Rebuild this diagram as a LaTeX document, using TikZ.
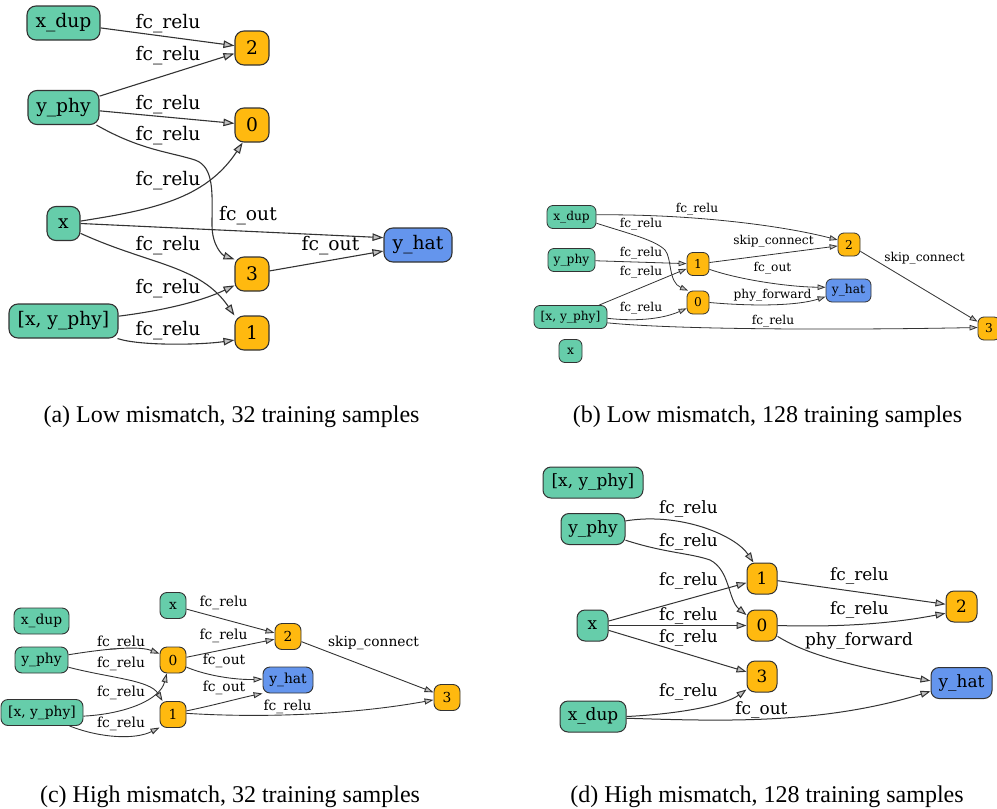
\documentclass[tikz,border=0pt]{standalone}
\usepackage{fontspec}
\setmainfont{Liberation Serif}
\newfontfamily\gvfamily{DejaVu Serif}
\usetikzlibrary{arrows.meta,calc}
\definecolor{ingreen}{HTML}{66CDAA}
\definecolor{oporange}{HTML}{FFB90F}
\definecolor{outblue}{HTML}{6495ED}
\definecolor{edgecol}{HTML}{333333}
\definecolor{tipfill}{HTML}{C0C0C0}
\tikzset{
  gv/.style={font=\gvfamily\fontsize{#1}{#1}\selectfont},
  graphnode/.style={draw=edgecol, inner sep=0pt},
  innode/.style={graphnode, fill=ingreen},
  opnode/.style={graphnode, fill=oporange},
  outnode/.style={graphnode, fill=outblue},
  sz/.style 2 args={minimum width=#1pt, minimum height=#2pt},
  elabel/.style={anchor=base, inner sep=0pt},
  caption/.style={font=\fontsize{24}{24}\selectfont, anchor=base, inner sep=0pt},
}
\begin{document}
\begin{tikzpicture}[x=1pt, y=-1pt]
\useasboundingbox (0,0) rectangle (997,809);

% ---------------- (a) ----------------
\begin{scope}[gv=18.7, line width=1.1pt, graphnode/.append style={rounded corners=9pt},
  conn/.style={draw=edgecol, -{Triangle[length=11pt,width=7.5pt,fill=tipfill]}}]
\node[innode, sz={73}{34}] (xdupA) at (63.5,23) {x\_dup};
\node[opnode, sz={34}{34}] (n2A) at (252,48) {2};
\node[innode, sz={71}{34}] (yphyA) at (63.5,107.5) {y\_phy};
\node[opnode, sz={34}{34}] (n0A) at (252,125) {0};
\node[innode, sz={33}{34}] (xA) at (63.5,223.5) {x};
\node[outnode, sz={68}{34}] (yhatA) at (418,245) {y\_hat};
\node[opnode, sz={34}{34}] (n3A) at (252,274) {3};
\node[innode, sz={109}{34}] (xyA) at (63.5,321) {[x, y\_phy]};
\node[opnode, sz={34}{34}] (n1A) at (252,333) {1};

\draw[conn] (xdupA) -- (n2A);
\draw[conn] (yphyA) -- (n2A);
\draw[conn] (yphyA) -- (n0A);
\draw[conn] (yphyA.-28) .. controls (140,150) and (170,152) .. (195,160)
  .. controls (215,167) and (212,195) .. (212,225)
  .. controls (212,245) and (222,255) .. (n3A.140);
\draw[conn] (xA.8) .. controls (150,210) and (205,200) .. (n0A.-118);
\draw[conn] (xA.-30) .. controls (150,265) and (200,265) .. (n1A.135);
\draw[conn] (xA.east) -- (yhatA.168);
\draw[conn] (n3A) -- (yhatA);
\draw[conn] (xyA.5) .. controls (160,311) and (200,302) .. (n3A.-147);
\draw[conn] (xyA.-18) .. controls (140,346) and (200,345) .. (n1A.-158);

\node[elabel] (la1) at (168,28.3) {fc\_relu};
\node[elabel] (la2) at (168,60.7) {fc\_relu};
\node[elabel] (la3) at (168,109) {fc\_relu};
\node[elabel] (la4) at (168,140) {fc\_relu};
\node[elabel] (la5) at (168,185.7) {fc\_relu};
\node[elabel] (la6) at (248,220.7) {fc\_out};
\node[elabel] (la7) at (168,250.7) {fc\_relu};
\node[elabel] (la8) at (330.5,250.7) {fc\_out};
\node[elabel] (la9) at (168,293.3) {fc\_relu};
\node[elabel] (la10) at (168,335) {fc\_relu};
\end{scope}

% ---------------- (b) ----------------
\begin{scope}[gv=12.2, line width=0.8pt, graphnode/.append style={rounded corners=6pt},
  conn/.style={draw=edgecol, -{Triangle[length=8pt,width=5.5pt,fill=tipfill]}}]
\node[innode, sz={49}{23}] (xdupB) at (571.5,217) {x\_dup};
\node[innode, sz={47}{23}] (yphyB) at (571.5,260) {y\_phy};
\node[innode, sz={73}{23}] (xyB) at (570.5,317) {[x, y\_phy]};
\node[innode, sz={23}{23}] (xB) at (570.5,351) {x};
\node[opnode, sz={22}{23}] (n1B) at (698,264) {1};
\node[opnode, sz={22}{23}] (n0B) at (698,302.5) {0};
\node[opnode, sz={22}{23}] (n2B) at (849,244.5) {2};
\node[outnode, sz={45}{23}] (yhatB) at (848.5,290.5) {y\_hat};
\node[opnode, sz={22}{23}] (n3B) at (989,328.5) {3};

\draw[conn] (xdupB.5) .. controls (690,214) and (780,225) .. (n2B.158);
\draw[conn] (xdupB.-14) .. controls (630,234) and (655,240) .. (665,250)
  .. controls (672,258) and (668,282) .. (n0B.130);
\draw[conn] (yphyB) -- (n1B);
\draw[conn] (xyB) -- (n1B);
\draw[conn] (xyB.-2) .. controls (640,322) and (665,318) .. (n0B.-153);
\draw[conn] (xyB.-9) .. controls (680,330) and (850,330) .. (n3B.175);
\draw[conn] (n1B) -- (n2B);
\draw[conn] (n1B.-25) .. controls (740,280) and (790,287) .. (yhatB.172);
\draw[conn] (n0B.east) .. controls (760,307) and (800,305) .. (yhatB.-165);
\draw[conn] (n2B) -- (n3B);

\node[elabel] (lb1) at (697,212.7) {fc\_relu};
\node[elabel] (lb2) at (641,227) {fc\_relu};
\node[elabel] (lb3) at (773.5,244) {skip\_connect};
\node[elabel] (lb4) at (924.5,261.7) {skip\_connect};
\node[elabel] (lb5) at (641,256.7) {fc\_relu};
\node[elabel] (lb6) at (641,275) {fc\_relu};
\node[elabel] (lb7) at (772.5,271.7) {fc\_out};
\node[elabel] (lb8) at (772.5,298) {phy\_forward};
\node[elabel] (lb9) at (641,311.7) {fc\_relu};
\node[elabel] (lb10) at (773,324) {fc\_relu};
\end{scope}

% ---------------- (c) ----------------
\begin{scope}[gv=13.8, line width=0.9pt, graphnode/.append style={rounded corners=7pt},
  conn/.style={draw=edgecol, -{Triangle[length=9pt,width=6pt,fill=tipfill]}}]
\node[innode, sz={55}{26}] (xdupC) at (41.5,621) {x\_dup};
\node[innode, sz={26}{26}] (xC) at (173,605.5) {x};
\node[innode, sz={53}{26}] (yphyC) at (41.5,660) {y\_phy};
\node[innode, sz={82}{26}] (xyC) at (42,712.5) {[x, y\_phy]};
\node[opnode, sz={26}{26}] (n0C) at (173,660) {0};
\node[opnode, sz={26}{26}] (n1C) at (173,714.5) {1};
\node[opnode, sz={26}{26}] (n2C) at (288,636.5) {2};
\node[outnode, sz={50}{26}] (yhatC) at (288,680) {y\_hat};
\node[opnode, sz={26}{26}] (n3C) at (447,697.5) {3};

\draw[conn] (xC) -- (n2C);
\draw[conn] (n0C) -- (n2C);
\draw[conn] (n2C) -- (n3C);
\draw[conn] (yphyC.11) .. controls (110,648) and (140,646) .. (n0C.155);
\draw[conn] (yphyC.-15) .. controls (110,678) and (150,680) .. (n1C.128);
\draw[conn] (n0C.-28) .. controls (210,677) and (240,680) .. (yhatC.178);
\draw[conn] (xyC.-5) .. controls (125,714) and (160,700) .. (n0C.-115);
\draw[conn] (xyC.-26) .. controls (100,738) and (135,740) .. (n1C.-136);
\draw[conn] (n1C.15) .. controls (215,705) and (240,698) .. (yhatC.south west);
\draw[conn] (n1C.5) .. controls (260,718) and (350,715) .. (n3C.-170);

\node[elabel] (lc1) at (223.5,606.7) {fc\_relu};
\node[elabel] (lc2) at (223.5,639.3) {fc\_relu};
\node[elabel] (lc3) at (373.5,646.7) {skip\_connect};
\node[elabel] (lc4) at (121,646.7) {fc\_relu};
\node[elabel] (lc5) at (121,667.3) {fc\_relu};
\node[elabel] (lc6) at (224,664.3) {fc\_out};
\node[elabel] (lc7) at (121,696.7) {fc\_relu};
\node[elabel] (lc8) at (224,691.7) {fc\_out};
\node[elabel] (lc9) at (287.5,710) {fc\_relu};
\node[elabel] (lc10) at (121,727.7) {fc\_relu};
\end{scope}

% ---------------- (d) ----------------
\begin{scope}[gv=16.9, line width=1pt, graphnode/.append style={rounded corners=8pt},
  conn/.style={draw=edgecol, -{Triangle[length=10pt,width=7pt,fill=tipfill]}}]
\node[innode, sz={100}{31}] (xyD) at (593,482.5) {[x, y\_phy]};
\node[innode, sz={64}{31}] (yphyD) at (593,529) {y\_phy};
\node[innode, sz={31}{31}] (xD) at (592.5,625.5) {x};
\node[innode, sz={66}{31}] (xdupD) at (593,716.5) {x\_dup};
\node[opnode, sz={30}{31}] (n1D) at (762,578.5) {1};
\node[opnode, sz={30}{31}] (n0D) at (762,625.5) {0};
\node[opnode, sz={30}{31}] (n3D) at (762,676.5) {3};
\node[opnode, sz={31}{31}] (n2D) at (961.5,606.5) {2};
\node[outnode, sz={61}{31}] (yhatD) at (961.5,683) {y\_hat};

\draw[conn] (yphyD.14) .. controls (680,512) and (735,535) .. (n1D.118);
\draw[conn] (yphyD.-19) .. controls (665,553) and (690,553) .. (710,560)
  .. controls (730,570) and (728,600) .. (n0D.146);
\draw[conn] (xD) -- (n1D);
\draw[conn] (xD) -- (n0D);
\draw[conn] (xD) -- (n3D);
\draw[conn] (n1D) -- (n2D);
\draw[conn] (n0D.east) .. controls (860,628) and (910,620) .. (n2D.-157);
\draw[conn] (n0D.-35) .. controls (800,650) and (830,662) .. (yhatD.176);
\draw[conn] (xdupD.east) .. controls (680,714) and (725,705) .. (n3D.-140);
\draw[conn] (xdupD.-3) .. controls (720,721) and (820,725) .. (yhatD.-165);

\node[elabel] (ld1) at (688.5,513.3) {fc\_relu};
\node[elabel] (ld2) at (688.5,546) {fc\_relu};
\node[elabel] (ld3) at (688.5,585) {fc\_relu};
\node[elabel] (ld4) at (688.5,620) {fc\_relu};
\node[elabel] (ld5) at (688.5,642.7) {fc\_relu};
\node[elabel] (ld6) at (688.5,696.7) {fc\_relu};
\node[elabel] (ld7) at (859.5,580) {fc\_relu};
\node[elabel] (ld8) at (859.5,614) {fc\_relu};
\node[elabel] (ld9) at (859,645) {phy\_forward};
\node[elabel] (ld10) at (761.5,714) {fc\_out};
\end{scope}

% ---------------- captions ----------------
\node[caption] (capA) at (231.5,422) {(a) Low mismatch, 32 training samples};
\node[caption] (capB) at (767.5,422) {(b) Low mismatch, 128 training samples};
\node[caption] (capC) at (230,802) {(c) High mismatch, 32 training samples};
\node[caption] (capD) at (767,802) {(d) High mismatch, 128 training samples};
\end{tikzpicture}
\end{document}
